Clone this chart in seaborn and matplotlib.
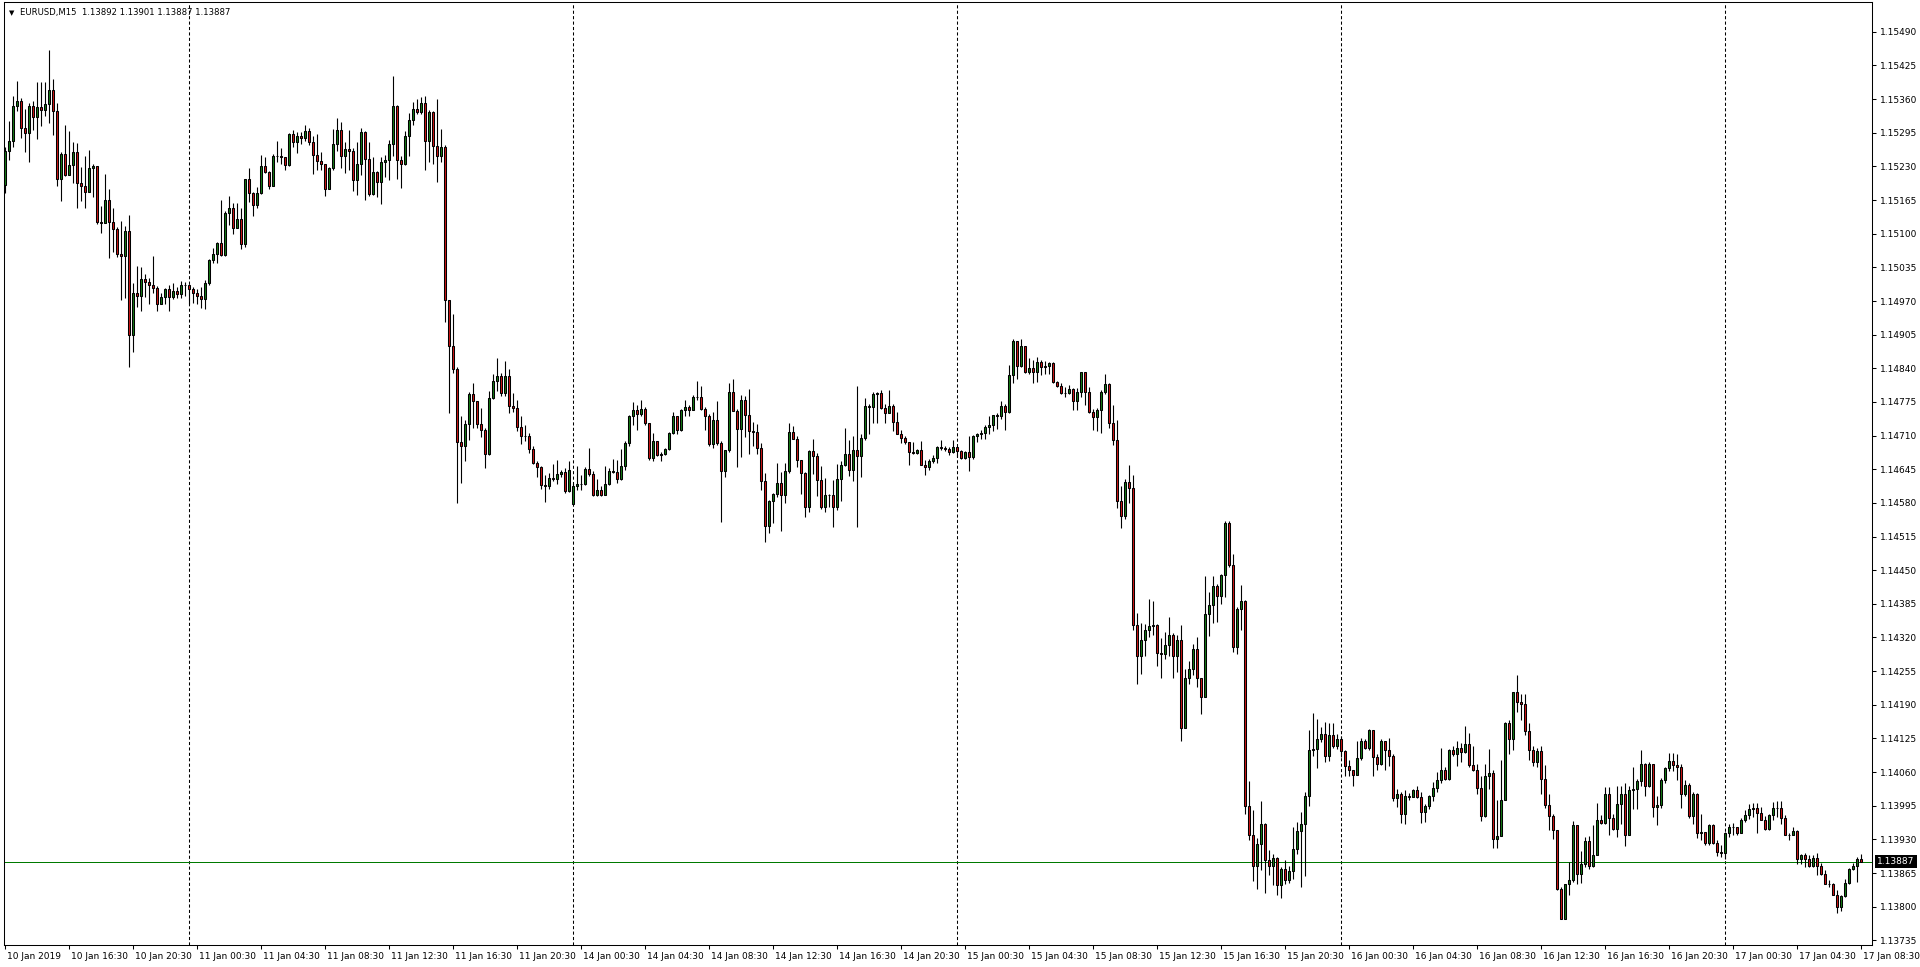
import numpy as np
import matplotlib
matplotlib.use("Agg")
import matplotlib.pyplot as plt
import matplotlib.transforms as mtransforms
import seaborn as sns

# ---------------- data (prices in points, 1 point = 0.00001) ----------------
symbol = "EURUSD,M15"
first_open_pts = 115195
monday_open_pts = 114577      # weekend gap open, 14 Jan 00:00
monday_index = 142

close_pts = [
    115259,115279,115346,115357,115305,115294,115346,115326,115345,115339,
    115350,115377,115338,115205,115254,115214,115232,115257,115197,115193,
    115180,115227,115231,115123,115121,115166,115123,115110,115061,115057,
    115105,114905,114985,114979,115012,115006,115001,114996,114965,114977,
    114994,114978,114989,114983,115000,115001,114994,114985,114979,114974,
    115004,115050,115060,115083,115059,115140,115149,115111,115129,115081,
    115205,115178,115155,115178,115230,115219,115192,115251,115251,115249,
    115233,115292,115278,115288,115284,115298,115277,115253,115240,115234,
    115187,115227,115273,115300,115251,115264,115259,115203,115235,115297,
    115245,115177,115219,115199,115239,115242,115273,115347,115242,115234,
    115289,115319,115340,115335,115353,115280,115335,115269,115250,115268,
    114971,114884,114839,114698,114690,114733,114791,114776,114732,114720,
    114674,114782,114816,114825,114793,114825,114768,114764,114726,114710,
    114710,114685,114657,114650,114615,114612,114629,114626,114635,114640,
    114603,114643,114613,114616,114616,114646,114635,114596,114605,114596,
    114616,114642,114640,114626,114652,114695,114748,114760,114751,114762,
    114734,114666,114700,114672,114674,114684,114715,114748,114721,114760,
    114765,114759,114784,114784,114761,114748,114694,114741,114695,114642,
    114682,114794,114758,114723,114779,114750,114718,114716,114687,114623,
    114536,114583,114598,114618,114596,114642,114717,114703,114662,114638,
    114573,114680,114671,114625,114573,114595,114595,114573,114626,114654,
    114674,114644,114683,114671,114705,114768,114766,114790,114792,114764,
    114753,114767,114736,114714,114706,114697,114679,114676,114682,114654,
    114649,114661,114666,114688,114686,114685,114679,114688,114681,114667,
    114678,114668,114709,114713,114715,114726,114730,114749,114747,114767,
    114756,114827,114892,114845,114883,114833,114840,114833,114852,114843,
    114844,114851,114814,114805,114793,114792,114800,114777,114795,114832,
    114795,114756,114746,114759,114794,114809,114735,114702,114584,114554,
    114621,114609,114345,114285,114315,114335,114343,114345,114290,114289,
    114306,114324,114284,114316,114145,114241,114259,114297,114241,114205,
    114365,114383,114419,114400,114440,114541,114461,114302,114376,114390,
    113995,113939,113879,113922,113959,113891,113879,113895,113841,113873,
    113851,113868,113911,113947,113959,114013,114102,114104,114123,114133,
    114091,114132,114110,114123,114101,114072,114064,114054,114088,114121,
    114107,114141,114089,114076,114120,114102,114091,114009,114018,113980,
    114013,114012,114025,114011,113982,113994,114013,114029,114044,114064,
    114047,114102,114094,114107,114099,114115,114074,114064,114029,113975,
    114052,114059,113930,113936,114007,114155,114123,114214,114196,114192,
    114140,114103,114080,114101,114047,113996,113975,113949,113834,113777,
    113843,113851,113957,113864,113882,113926,113878,113900,113968,113962,
    114018,113971,113951,113999,114018,113939,114025,114028,114042,114075,
    114034,114076,113993,113996,114044,114067,114081,114073,114069,114018,
    114036,113975,114018,113942,113944,113923,113957,113923,113906,113904,
    113943,113953,113953,113943,113967,113977,113989,113991,113981,113968,
    113951,113978,113991,113991,113971,113939,113938,113946,113893,113899,
    113893,113879,113894,113879,113864,113844,113843,113823,113799,113820,
    113846,113873,113879,113892,113887,
]

high_pts = [
    115268,115317,115366,115395,115363,115341,115352,115356,115393,115393,
    115393,115455,115399,115352,115258,115310,115299,115277,115275,115229,
    115250,115261,115234,115231,115153,115216,115186,115149,115113,115124,
    115115,115136,115005,115037,115035,115023,115015,115057,114999,114985,
    114996,115001,115004,114997,115009,115006,115002,114997,114994,114998,
    115010,115052,115073,115084,115166,115144,115173,115160,115160,115149,
    115205,115226,115181,115190,115252,115248,115222,115254,115279,115265,
    115249,115294,115300,115297,115296,115310,115304,115288,115293,115258,
    115235,115228,115302,115323,115315,115278,115300,115266,115277,115304,
    115299,115278,115249,115222,115248,115252,115281,115405,115349,115251,
    115299,115333,115354,115361,115365,115366,115339,115337,115360,115302,
    115271,114966,114945,114843,114747,114740,114795,114811,114777,114763,
    114724,114796,114829,114860,114831,114855,114838,114792,114779,114748,
    114731,114715,114690,114660,114652,114634,114637,114655,114663,114644,
    114647,114660,114618,114652,114634,114650,114687,114641,114626,114612,
    114652,114647,114664,114662,114685,114699,114750,114775,114769,114778,
    114766,114734,114715,114700,114679,114686,114717,114755,114748,114761,
    114779,114769,114789,114815,114805,114765,114752,114756,114777,114699,
    114683,114811,114819,114761,114788,114786,114800,114737,114732,114695,
    114637,114585,114600,114658,114640,114658,114735,114728,114709,114663,
    114640,114682,114703,114676,114651,114629,114597,114625,114655,114660,
    114724,114701,114709,114806,114714,114782,114772,114794,114795,114798,
    114772,114798,114771,114756,114721,114709,114698,114698,114685,114700,
    114663,114664,114672,114690,114702,114690,114688,114701,114688,114683,
    114680,114709,114711,114715,114720,114730,114747,114749,114753,114777,
    114771,114846,114896,114893,114896,114883,114859,114857,114862,114857,
    114854,114852,114852,114815,114812,114804,114807,114801,114801,114833,
    114833,114804,114762,114764,114798,114829,114812,114769,114741,114612,
    114627,114653,114634,114368,114348,114347,114394,114390,114347,114319,
    114330,114359,114329,114324,114345,114260,114274,114307,114321,114242,
    114438,114407,114438,114424,114443,114546,114546,114481,114378,114421,
    114392,114042,113986,113933,114005,113962,113909,113902,113896,113877,
    113891,113878,113954,113964,113982,114022,114141,114175,114163,114147,
    114157,114155,114155,114134,114130,114103,114083,114065,114121,114125,
    114123,114143,114141,114094,114123,114121,114125,114094,114028,114022,
    114025,114020,114028,114033,114022,113998,114015,114041,114060,114107,
    114069,114105,114110,114121,114116,114150,114136,114110,114076,114052,
    114076,114105,114064,114006,114084,114157,114160,114215,114247,114210,
    114210,114155,114110,114107,114110,114074,114018,113980,113948,113838,
    113844,113886,113966,113957,113907,113935,113936,113957,114000,113978,
    114031,114032,113980,114034,114034,114038,114034,114070,114047,114103,
    114078,114080,114076,114013,114049,114070,114096,114096,114094,114075,
    114044,114038,114022,114020,113980,113944,113960,113959,113928,113919,
    113944,113960,113962,113954,113972,113987,113999,114000,114000,113993,
    113975,113980,114002,114005,114004,113977,113943,113954,113949,113902,
    113904,113899,113899,113904,113884,113870,113851,113846,113832,113822,
    113854,113875,113884,113896,113901,
]

low_pts = [
    115178,115243,115268,115337,115285,115258,115239,115301,115282,115308,
    115327,115313,115291,115193,115164,115212,115213,115198,115150,115164,
    115149,115180,115171,115118,115102,115122,115054,115065,115055,114972,
    114976,114843,114872,114959,114951,114978,114965,114985,114951,114965,
    114965,114951,114973,114975,114975,114979,114965,114966,114965,114957,
    114955,115001,115044,115044,115057,115057,115117,115100,115113,115070,
    115075,115162,115135,115150,115177,115217,115187,115192,115238,115234,
    115224,115231,115268,115255,115273,115280,115271,115216,115223,115224,
    115172,115186,115224,115260,115226,115217,115223,115183,115175,115214,
    115166,115172,115175,115170,115157,115209,115203,115250,115205,115189,
    115232,115251,115310,115331,115331,115224,115239,115234,115199,115239,
    114930,114754,114830,114580,114619,114660,114702,114724,114724,114708,
    114647,114673,114780,114797,114787,114787,114753,114755,114718,114694,
    114699,114676,114655,114631,114607,114581,114607,114623,114617,114630,
    114600,114601,114577,114604,114604,114615,114632,114594,114594,114594,
    114596,114614,114637,114619,114625,114643,114690,114730,114721,114748,
    114731,114663,114660,114670,114660,114672,114683,114713,114713,114719,
    114748,114748,114761,114779,114759,114721,114690,114687,114692,114544,
    114631,114679,114757,114650,114669,114708,114674,114690,114674,114605,
    114505,114522,114542,114592,114526,114580,114638,114703,114650,114598,
    114553,114563,114635,114593,114569,114563,114573,114534,114566,114584,
    114651,114632,114623,114534,114631,114701,114713,114734,114734,114761,
    114735,114753,114718,114713,114696,114694,114653,114674,114674,114653,
    114634,114644,114657,114657,114682,114681,114672,114677,114669,114664,
    114664,114642,114665,114698,114704,114704,114714,114719,114723,114743,
    114720,114753,114812,114819,114843,114831,114829,114812,114814,114827,
    114829,114829,114811,114803,114791,114784,114790,114760,114760,114785,
    114769,114754,114720,114719,114715,114790,114724,114691,114571,114532,
    114548,114580,114334,114231,114249,114285,114320,114324,114265,114241,
    114279,114285,114241,114253,114121,114145,114231,114247,114224,114173,
    114205,114323,114348,114350,114384,114398,114456,114292,114289,114334,
    113980,113929,113849,113835,113870,113826,113861,113841,113823,113817,
    113844,113846,113854,113902,113838,113859,113995,114092,114067,114118,
    114080,114081,114107,114105,114089,114052,114052,114033,114054,114083,
    114105,114103,114052,114064,114074,114064,114071,114004,113993,113962,
    113959,114006,114011,114009,113962,113964,113988,114004,114022,114038,
    114044,114045,114091,114071,114080,114097,114069,114062,114018,113966,
    113973,114028,113914,113914,113936,114007,114094,114103,114176,114161,
    114131,114084,114071,114069,114018,113991,113949,113931,113832,113776,
    113776,113822,113848,113843,113846,113877,113873,113877,113899,113959,
    113960,113938,113949,113935,113960,113917,113938,113989,113989,114034,
    114013,114031,113973,113957,113991,114038,114063,114062,114045,113991,
    114013,113972,113960,113933,113928,113920,113920,113922,113897,113896,
    113893,113935,113938,113938,113943,113964,113970,113973,113942,113967,
    113948,113948,113967,113973,113959,113938,113928,113938,113882,113883,
    113877,113877,113877,113861,113861,113843,113838,113822,113788,113792,
    113819,113843,113870,113848,113887,
]

x_labels = [
    "10 Jan 2019", "10 Jan 16:30", "10 Jan 20:30", "11 Jan 00:30", "11 Jan 04:30",
    "11 Jan 08:30", "11 Jan 12:30", "11 Jan 16:30", "11 Jan 20:30", "14 Jan 00:30",
    "14 Jan 04:30", "14 Jan 08:30", "14 Jan 12:30", "14 Jan 16:30", "14 Jan 20:30",
    "15 Jan 00:30", "15 Jan 04:30", "15 Jan 08:30", "15 Jan 12:30", "15 Jan 16:30",
    "15 Jan 20:30", "16 Jan 00:30", "16 Jan 04:30", "16 Jan 08:30", "16 Jan 12:30",
    "16 Jan 16:30", "16 Jan 20:30", "17 Jan 00:30", "17 Jan 04:30", "17 Jan 08:30",
]

y_labels = [
    "1.13735", "1.13800", "1.13865", "1.13930", "1.13995", "1.14060", "1.14125",
    "1.14190", "1.14255", "1.14320", "1.14385", "1.14450", "1.14515", "1.14580",
    "1.14645", "1.14710", "1.14775", "1.14840", "1.14905", "1.14970", "1.15035",
    "1.15100", "1.15165", "1.15230", "1.15295", "1.15360", "1.15425", "1.15490",
]

# bar times (M15), used to place the day separators
bar_times = np.concatenate([
    np.arange(np.datetime64("2019-01-10T12:30"), np.datetime64("2019-01-12T00:00"), np.timedelta64(15, "m")),
    np.arange(np.datetime64("2019-01-14T00:00"), np.datetime64("2019-01-17T08:45"), np.timedelta64(15, "m")),
])

# ---------------- derived arrays ----------------
closes = np.array(close_pts) / 1e5
n = len(closes)
opens = np.empty(n)
opens[0] = first_open_pts / 1e5
opens[1:] = closes[:-1]
opens[monday_index] = monday_open_pts / 1e5
highs = np.maximum.reduce([np.array(high_pts) / 1e5, opens, closes])
lows = np.minimum.reduce([np.array(low_pts) / 1e5, opens, closes])
xs = np.arange(n)
day_starts = [i for i, t in enumerate(bar_times[:n])
              if i > 0 and str(t)[11:16] == "00:00"]

# ---------------- style ----------------
sns.set_theme(style="white", rc={
    "axes.edgecolor": "black",
    "axes.linewidth": 0.75,
    "xtick.color": "black",
    "ytick.color": "black",
})
plt.rcParams["font.family"] = ["DejaVu Sans"]

GREEN = "#147814"
RED = "#cc1414"

fig = plt.figure(figsize=(19.2, 9.67), dpi=100)
W, H = 1920, 967
ax_l, ax_r, ax_t, ax_b = 4, 1872, 2, 945
ax = fig.add_axes([ax_l / W, (H - ax_b) / H, (ax_r - ax_l) / W, (ax_b - ax_t) / H])
ax.set_facecolor("white")

# day separators
for d in day_starts:
    ax.axvline(d, color="black", lw=0.75, ls=(0, (3, 2.2)), zorder=1)

# current price line
ax.axhline(closes[-1], color="#007a00", lw=0.72, zorder=1.5, snap=True)

# wicks
ax.vlines(xs, lows, highs, colors="black", lw=0.8, zorder=2)

# bodies
body_bottom = np.minimum(opens, closes)
body_h = np.maximum(np.abs(closes - opens), 1e-7)
colors = np.where(closes >= opens, GREEN, RED)
ax.bar(xs, body_h, bottom=body_bottom, width=0.55, color=colors,
       edgecolor="black", linewidth=0.75, zorder=3)

# limits
ax.set_xlim(-0.33, 466.75)
ax.set_ylim(1.13726, 1.155476)

# y axis on the right
ax.yaxis.tick_right()
ax.set_yticks([float(s) for s in y_labels])
ax.set_yticklabels(y_labels)
ax.tick_params(axis="y", direction="out", length=3, width=0.75, pad=3,
               labelsize=6.5, right=True, left=False)

# x axis
ax.set_xticks(np.arange(0, n, 16))
ax.set_xticklabels(x_labels, ha="left")
ax.tick_params(axis="x", direction="out", length=3, width=0.75, pad=2,
               labelsize=6.5, bottom=True)
offset = mtransforms.ScaledTranslation(2 / 100, 0, fig.dpi_scale_trans)
for lbl in ax.get_xticklabels():
    lbl.set_transform(lbl.get_transform() + offset)

for sp in ax.spines.values():
    sp.set_color("black")
    sp.set_linewidth(0.75)

# last price box on the price scale
blend = mtransforms.blended_transform_factory(ax.transAxes, ax.transData)
box_off = mtransforms.ScaledTranslation(5 / 100, 0, fig.dpi_scale_trans)
ax.text(1.0, closes[-1], f"{closes[-1]:.5f}", transform=blend + box_off,
        ha="left", va="center", color="white", fontsize=6.5, zorder=10,
        bbox=dict(boxstyle="square,pad=0.25", fc="black", ec="none"),
        clip_on=False)

# header
fig.text(9 / W, 1 - 13 / H, "\u25bc", fontsize=5, ha="left", va="center", color="black")
fig.text(20 / W, 1 - 13 / H,
         f"{symbol}  {opens[-1]:.5f} {highs[-1]:.5f} {lows[-1]:.5f} {closes[-1]:.5f}",
         fontsize=6.1, ha="left", va="center", color="black")

fig.savefig("out.png", dpi=100, facecolor="white")
